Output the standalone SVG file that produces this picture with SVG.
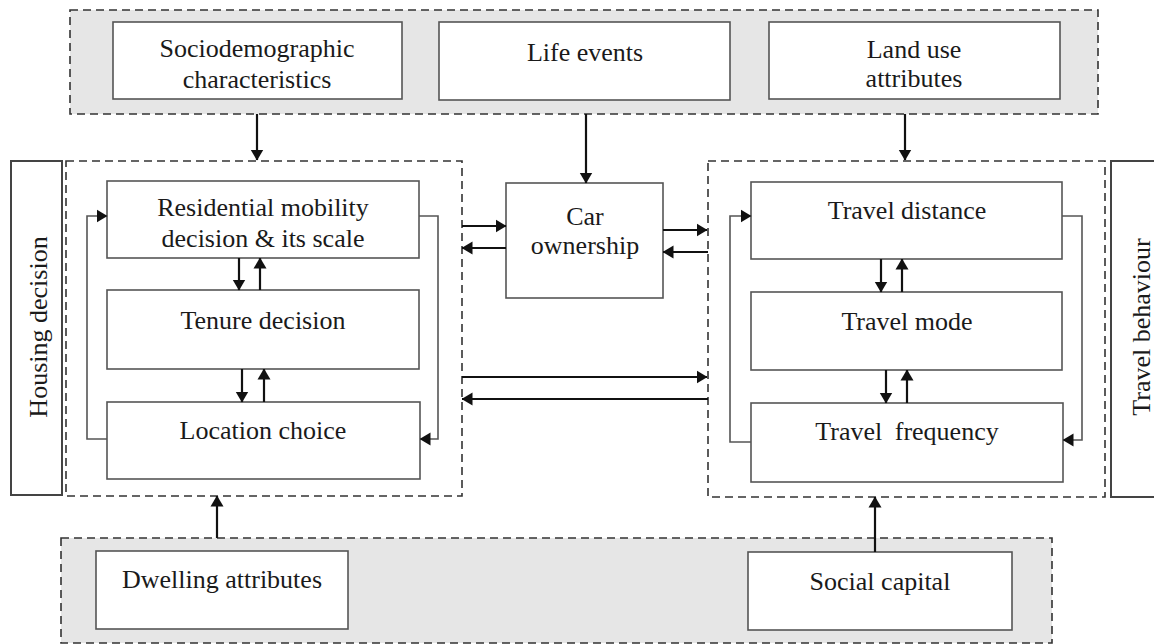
<svg xmlns="http://www.w3.org/2000/svg" width="1154" height="644" viewBox="0 0 1154 644">
  <style>
    .grp { fill: #e6e6e6; stroke: #333; stroke-width: 1.6; stroke-dasharray: 8 5; }
    .frame { fill: none; stroke: #333; stroke-width: 1.6; stroke-dasharray: 8 5; }
    .box { fill: #fff; stroke: #555; stroke-width: 1.6; }
    .side { fill: #fff; stroke: #444; stroke-width: 2; }
    .lbl { font-family: "Liberation Serif", "Times New Roman", serif; font-size: 26px; fill: #1a1a1a; text-anchor: middle; }
    .arr { fill: none; stroke: #111; stroke-width: 2.2; marker-end: url(#head); }
    .loop { fill: none; stroke: #555; stroke-width: 1.6; marker-end: url(#head); }
  </style>
  <defs>
    <marker id="head" viewBox="0 0 11 14" refX="10.5" refY="7" markerWidth="11" markerHeight="14" markerUnits="userSpaceOnUse" orient="auto">
      <path d="M0,0.5 L11,7 L0,13.5 Z" fill="#111"/>
    </marker>
  </defs>

  <!-- upper band of external factors -->
  <g id="top-band">
    <rect class="grp" x="70" y="10" width="1028" height="104"/>
  </g>
  <g id="sociodemographic">
    <rect class="box" x="113" y="22" width="289" height="77"/>
    <text class="lbl" x="257" y="57">Sociodemographic</text>
    <text class="lbl" x="257" y="88">characteristics</text>
  </g>
  <g id="life-events">
    <rect class="box" x="439" y="22" width="291" height="78"/>
    <text class="lbl" x="585" y="61">Life events</text>
  </g>
  <g id="land-use">
    <rect class="box" x="769" y="22" width="291" height="77"/>
    <text class="lbl" x="914" y="58">Land use</text>
    <text class="lbl" x="914" y="87">attributes</text>
  </g>

  <!-- housing decision block -->
  <g id="housing-label">
    <rect class="side" x="11" y="161" width="51" height="334"/>
    <text class="lbl" transform="translate(47,327) rotate(-90)">Housing decision</text>
  </g>
  <g id="housing-frame">
    <rect class="frame" x="66" y="161" width="396" height="335"/>
  </g>
  <g id="residential-mobility">
    <rect class="box" x="107" y="181" width="312" height="77"/>
    <text class="lbl" x="263" y="216">Residential mobility</text>
    <text class="lbl" x="263" y="247">decision &amp; its scale</text>
  </g>
  <g id="tenure">
    <rect class="box" x="107" y="290" width="312" height="79"/>
    <text class="lbl" x="263" y="329">Tenure decision</text>
  </g>
  <g id="location">
    <rect class="box" x="107" y="402" width="313" height="77"/>
    <text class="lbl" x="263" y="439">Location choice</text>
  </g>

  <!-- car ownership -->
  <g id="car-ownership">
    <rect class="box" x="506" y="183" width="157" height="115"/>
    <text class="lbl" x="585" y="225">Car</text>
    <text class="lbl" x="585" y="254">ownership</text>
  </g>

  <!-- travel behaviour block -->
  <g id="travel-frame">
    <rect class="frame" x="708" y="161" width="397" height="336"/>
  </g>
  <g id="travel-label">
    <rect class="side" x="1111" y="161" width="60" height="336"/>
    <text class="lbl" transform="translate(1150,327) rotate(-90)">Travel behaviour</text>
  </g>
  <g id="travel-distance">
    <rect class="box" x="751" y="182" width="311" height="77"/>
    <text class="lbl" x="907" y="219">Travel distance</text>
  </g>
  <g id="travel-mode">
    <rect class="box" x="751" y="292" width="311" height="78"/>
    <text class="lbl" x="907" y="330">Travel mode</text>
  </g>
  <g id="travel-frequency">
    <rect class="box" x="751" y="403" width="312" height="79"/>
    <text class="lbl" x="907" y="440">Travel <tspan dx="6">frequency</tspan></text>
  </g>

  <!-- lower band of external factors -->
  <g id="bottom-band">
    <rect class="grp" x="61" y="538" width="991" height="105"/>
  </g>
  <g id="dwelling">
    <rect class="box" x="96" y="551" width="252" height="78"/>
    <text class="lbl" x="222" y="588">Dwelling attributes</text>
  </g>
  <g id="social-capital">
    <rect class="box" x="748" y="552" width="264" height="78"/>
    <text class="lbl" x="880" y="590">Social capital</text>
  </g>

  <g id="connectors">
    <!-- external factors into blocks -->
    <path class="arr" d="M257,114 V160"/>
    <path class="arr" d="M586,114 V183"/>
    <path class="arr" d="M905,114 V160"/>
    <path class="arr" d="M217,538 V496"/>
    <path class="arr" d="M875,552 V497"/>

    <!-- housing internal links -->
    <path class="arr" d="M239,258 V290"/>
    <path class="arr" d="M260,290 V258"/>
    <path class="arr" d="M242,369 V402"/>
    <path class="arr" d="M264,402 V369"/>
    <path class="loop" d="M107,439 H87 V216 H107"/>
    <path class="loop" d="M419,216 H438 V439 H420"/>

    <!-- travel internal links -->
    <path class="arr" d="M881,259 V292"/>
    <path class="arr" d="M902,292 V259"/>
    <path class="arr" d="M886,370 V403"/>
    <path class="arr" d="M907,403 V370"/>
    <path class="loop" d="M751,442 H730 V216 H751"/>
    <path class="loop" d="M1062,216 H1082 V440 H1063"/>

    <!-- links through car ownership -->
    <path class="arr" d="M462,226 H506"/>
    <path class="arr" d="M506,248 H462"/>
    <path class="arr" d="M663,230 H707"/>
    <path class="arr" d="M708,252 H663"/>

    <!-- direct links between blocks -->
    <path class="arr" d="M462,377 H707"/>
    <path class="arr" d="M708,399 H462"/>
  </g>
</svg>
